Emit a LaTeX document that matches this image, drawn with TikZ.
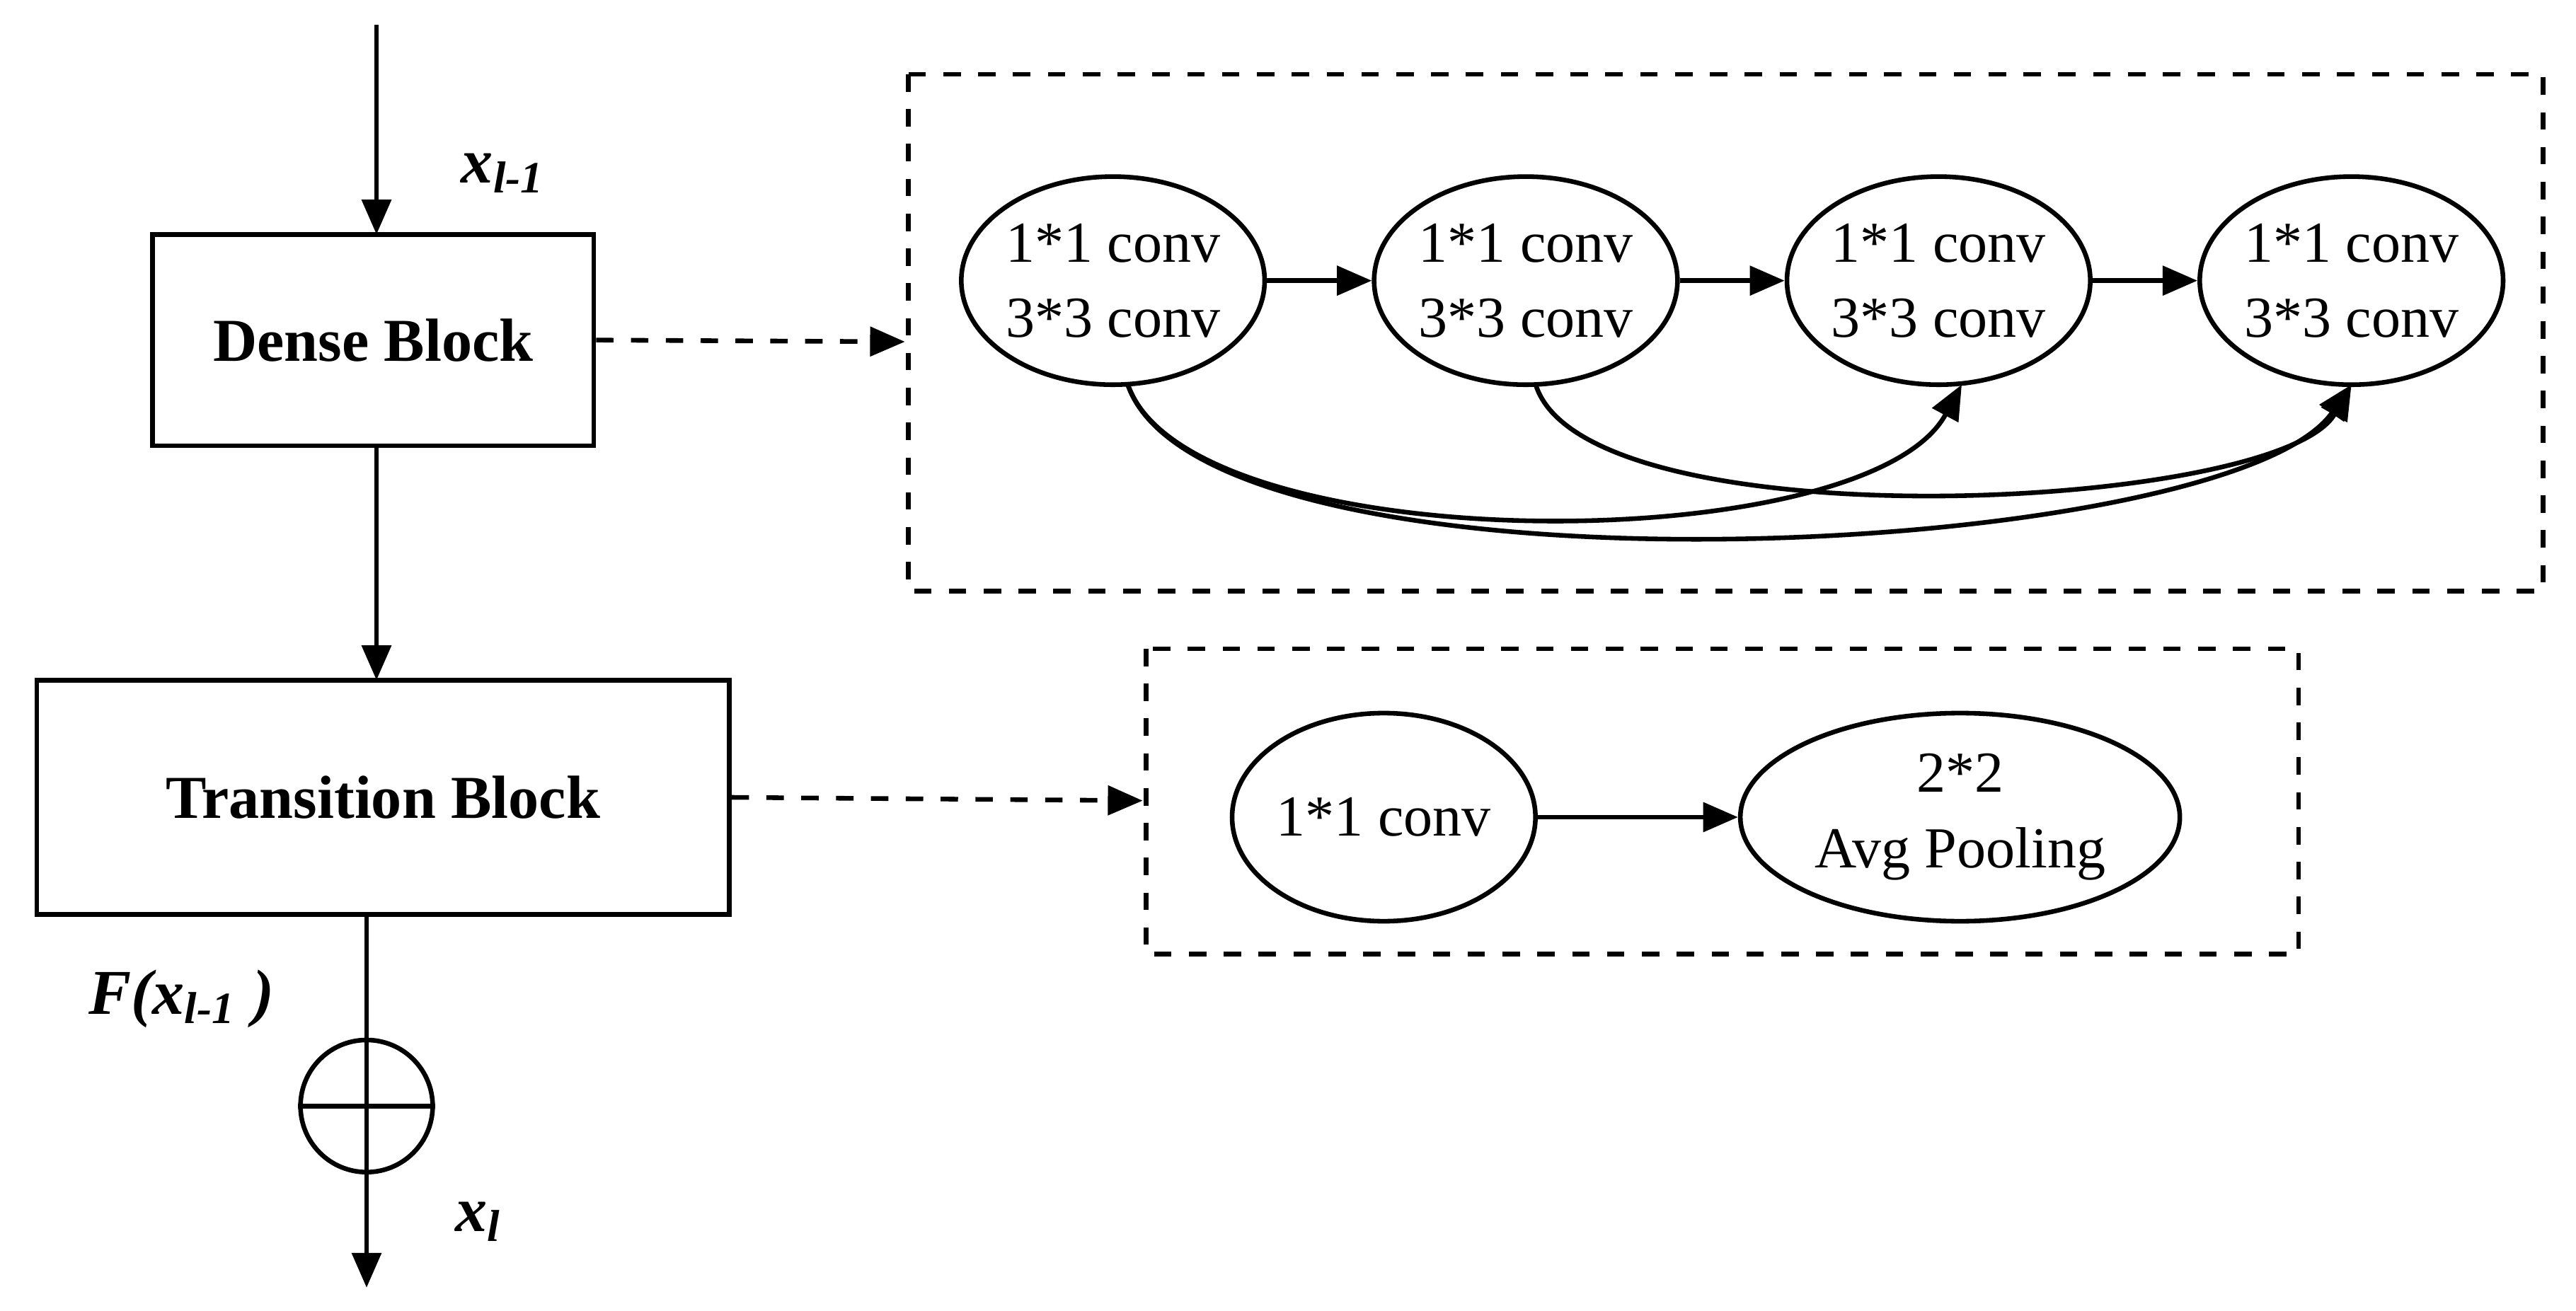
\documentclass[tikz,border=0pt]{standalone}
\usepackage{fontspec}
\setmainfont{Liberation Serif}
\usetikzlibrary{shapes.geometric,arrows.meta}
\begin{document}
\begin{tikzpicture}[x=0.01cm,y=-0.01cm,
  box/.style={draw,thick,rectangle,font=\fontsize{10.5}{12}\bfseries},
  ell/.style={draw,thick,ellipse,inner sep=0pt,align=center,font=\fontsize{10}{13}\selectfont,minimum width=1.8cm,minimum height=1.26cm},
  arr/.style={-{Triangle[length=6pt,width=5pt]},thick},
  darr/.style={-{Triangle[length=6pt,width=5pt]},thick,dashed},
  lab/.style={font=\fontsize{11}{12}\bfseries\itshape}]
\useasboundingbox (0,0) rectangle (1560,794);
\node[box,minimum width=2.67cm,minimum height=1.28cm] (db) at (226,206) {Dense Block};
\node[box,minimum width=4.19cm,minimum height=1.42cm] (tb) at (232,483) {Transition Block};
\coordinate (top) at (228,15);
\node[draw,thick,circle,minimum size=0.8cm,inner sep=0pt] (sum) at (222,670) {};
\draw[thick] (sum.north)--(sum.south) (sum.west)--(sum.east);
\coordinate (bot) at (222,780);
\draw[arr] (top)--(228,142);
\draw[arr] (228,270)--(228,412);
\draw[thick] (222,554)--(sum.north);
\draw[arr] (sum.south)--(bot);
\node[lab] at (305,105) {x\textsubscript{l-1}};
\node[lab] at (110,605) {F(x\textsubscript{l-1} )};
\node[lab] at (290,740) {x\textsubscript{l}};
% dense detail
\draw[thick,dashed] (550,45) rectangle (1540,358);
\coordinate (d1) at (548,207);
\draw[darr] (db.east)--(d1);
\foreach \i/\x in {1/674,2/924,3/1174,4/1424}
  \node[ell] (e\i) at (\x,170) {1*1 conv\\3*3 conv};
\draw[arr] (e1)--(e2);
\draw[arr] (e2)--(e3);
\draw[arr] (e3)--(e4);
\draw[arr] (683,233) .. controls (720,340) and (1130,340) .. (1188,233);
\draw[arr] (683,233) .. controls (730,370) and (1350,340) .. (1424,233);
\draw[arr] (930,233) .. controls (960,330) and (1380,310) .. (1424,233);
% transition detail
\draw[thick,dashed] (694,393) rectangle (1392,578);
\coordinate (d2) at (692,485);
\draw[darr] (tb.east)--(d2);
\node[ell] (t1) at (838,495) {1*1 conv};
\node[ell,minimum width=2.66cm] (t2) at (1187,495) {2*2\\Avg Pooling};
\draw[arr] (t1)--(t2);
\end{tikzpicture}
\end{document}
